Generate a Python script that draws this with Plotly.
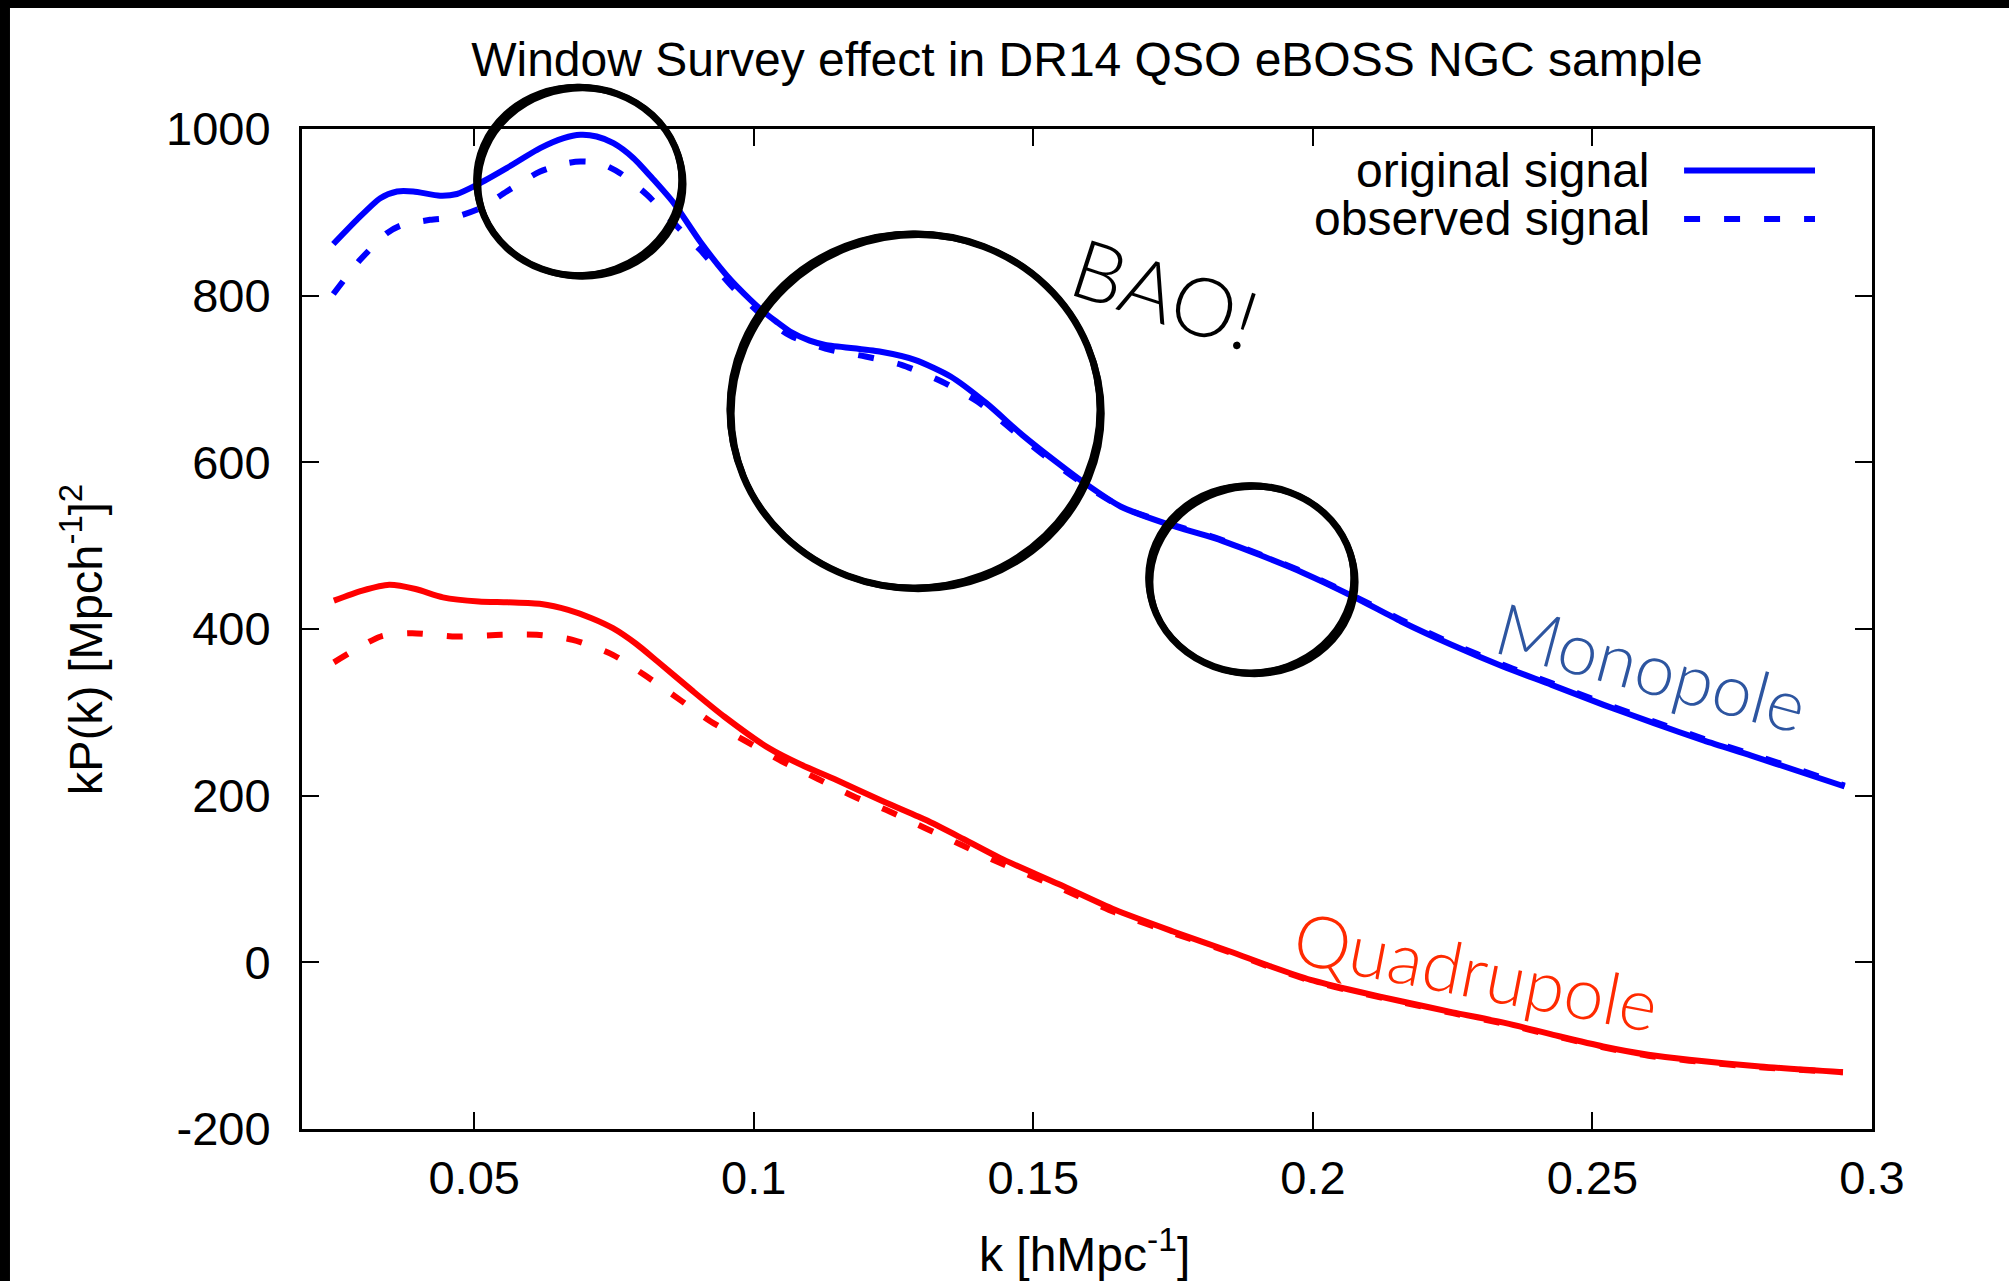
import plotly.graph_objects as go

# ---- data: kP(k) multipoles, original vs window-convolved (observed) ----
k_mono_orig = [0.0248, 0.0290, 0.0332, 0.0362, 0.0391, 0.0439, 0.0469, 0.0505, 0.0558, 0.0618,
               0.0660, 0.0690, 0.0719, 0.0749, 0.0785, 0.0821, 0.0857, 0.0904, 0.0952, 0.0994,
               0.1017, 0.1040, 0.1065, 0.1100, 0.1128, 0.1225, 0.1288, 0.1352, 0.1416, 0.1480,
               0.1544, 0.1592, 0.1656, 0.1744, 0.1824, 0.1904, 0.1984, 0.2072, 0.2158, 0.2248,
               0.2340, 0.2427, 0.2520, 0.2610, 0.2700, 0.2784, 0.2870, 0.2951]
kp_mono_orig = [862, 891, 917, 925, 925, 920, 922, 933, 953, 977,
                989, 993, 991, 983, 965, 939, 911, 865, 824, 795,
                781, 769, 757, 746, 741, 733, 723, 703, 671, 633,
                599, 575, 547, 525, 509, 489, 467, 439, 409, 381,
                355, 333, 309, 287, 266, 248, 229, 211]

k_mono_obs = [0.0248, 0.0296, 0.0344, 0.0368, 0.0421, 0.0463, 0.0511, 0.0558, 0.0618, 0.0666,
              0.0690, 0.0725, 0.0761, 0.0809, 0.0863, 0.0904, 0.0964, 0.1012, 0.1065, 0.1137,
              0.1200, 0.1264, 0.1336, 0.1400, 0.1464, 0.1520, 0.1592, 0.1656, 0.1744, 0.1824,
              0.1904, 0.1984, 0.2072, 0.2158, 0.2248, 0.2340, 0.2427, 0.2520, 0.2610, 0.2700,
              0.2784, 0.2870, 0.2951]
kp_mono_obs = [802, 843, 875, 884, 891, 894, 905, 925, 949, 959,
               961, 959, 947, 921, 883, 855, 809, 778, 752, 735,
               727, 717, 697, 673, 638, 608, 573, 547, 526, 510,
               490, 468, 440, 411, 383, 357, 335, 311, 289, 268,
               250, 231, 212]

k_quad_orig = [0.0249, 0.0300, 0.0348, 0.0395, 0.0444, 0.0508, 0.0560, 0.0620, 0.0668, 0.0710,
               0.0748, 0.0790, 0.0828, 0.0890, 0.0947, 0.1027, 0.1085, 0.1147, 0.1225, 0.1307,
               0.1375, 0.1441, 0.1545, 0.1646, 0.1750, 0.1852, 0.1925, 0.1996, 0.2080, 0.2160,
               0.2250, 0.2345, 0.2430, 0.2519, 0.2600, 0.2673, 0.2800, 0.2948]
kp_quad_orig = [434, 446, 453, 448, 438, 433, 432, 430, 423, 413,
                401, 382, 361, 326, 295, 257, 237, 219, 195, 171,
                148, 125, 94, 63, 37, 13, -5, -21, -35, -47,
                -60, -73, -87, -101, -111, -117, -125, -132]

k_quad_obs = [0.0249, 0.0333, 0.0388, 0.0468, 0.0548, 0.0612, 0.0676, 0.0748, 0.0804, 0.0868,
              0.0923, 0.0987, 0.1051, 0.1115, 0.1179, 0.1243, 0.1307, 0.1371, 0.1435, 0.1545,
              0.1646, 0.1750, 0.1852, 0.1925, 0.1996, 0.2080, 0.2160, 0.2250, 0.2345, 0.2430,
              0.2519, 0.2600, 0.2673, 0.2800, 0.2948]
kp_quad_obs = [360, 391, 395, 391, 393, 393, 387, 369, 345, 315,
               289, 265, 241, 220, 199, 181, 161, 141, 121, 90,
               60, 35, 12, -6, -22, -36, -48, -61, -74, -88,
               -102, -112, -118, -126, -132]

x_tickvals = [0.05, 0.1, 0.15, 0.2, 0.25, 0.3]
x_ticktext = ["0.05", "0.1", "0.15", "0.2", "0.25", "0.3"]
y_tickvals = [-200, 0, 200, 400, 600, 800, 1000]
y_ticktext = ["-200", "0", "200", "400", "600", "800", "1000"]

X_RANGE = [0.0192, 0.3]
Y_RANGE = [-200, 1000]

# BAO wiggles highlighted with hand-drawn rings: (k_min, k_max, kP_min, kP_max)
bao_rings = [(0.0505, 0.0872, 824, 1050),
             (0.0958, 0.1620, 449, 874),
             (0.1707, 0.2074, 347, 572)]

BLUE = "#0000FF"
RED = "#FF0000"
TEXT_FONT = "Liberation Sans, Arial, Helvetica, sans-serif"
HAND_FONT = "Lato, Noto Sans, sans-serif"
DASH = "16px,24px"
LINE_W = 6


def to_paper_x(k):
    return (k - X_RANGE[0]) / (X_RANGE[1] - X_RANGE[0])


def to_paper_y(v):
    return (v - Y_RANGE[0]) / (Y_RANGE[1] - Y_RANGE[0])


fig = go.Figure()

for k, v, color, dash in [
    (k_mono_orig, kp_mono_orig, BLUE, "solid"),
    (k_mono_obs, kp_mono_obs, BLUE, DASH),
    (k_quad_orig, kp_quad_orig, RED, "solid"),
    (k_quad_obs, kp_quad_obs, RED, DASH),
]:
    fig.add_trace(go.Scatter(
        x=k, y=v, mode="lines", showlegend=False, hoverinfo="skip",
        line=dict(color=color, width=LINE_W, dash=dash, shape="spline", smoothing=0.7),
    ))

shapes = []

# hand-drawn rings: a main stroke plus thinner offset passes for a rough pencil look
for k0, k1, v0, v1 in bao_rings:
    x0, x1 = to_paper_x(k0), to_paper_x(k1)
    y0, y1 = to_paper_y(v0), to_paper_y(v1)
    for dx, dy, w in [(0, 0, 7), (0.0018, -0.0025, 3), (-0.0015, 0.002, 3), (0.001, 0.0015, 2)]:
        shapes.append(dict(type="circle", xref="paper", yref="paper",
                           x0=x0 + dx, x1=x1 + dx, y0=y0 + dy, y1=y1 + dy,
                           line=dict(color="black", width=w), layer="above"))

# legend samples (gnuplot style: key text on the left, line sample on the right)
legend_rows = [("original signal", "solid", 0.9586), ("observed signal", DASH, 0.910)]
for _, dash, yy in legend_rows:
    shapes.append(dict(type="line", xref="paper", yref="paper",
                       x0=0.8803, x1=0.9637, y0=yy, y1=yy,
                       line=dict(color=BLUE, width=LINE_W, dash=dash)))

# dark frame strips along the top and left edges of the page
shapes.append(dict(type="rect", xref="paper", yref="paper", x0=-0.2, x1=1.1, y0=1.121, y1=1.14,
                   fillcolor="black", line=dict(width=0), layer="above"))
shapes.append(dict(type="rect", xref="paper", yref="paper", x0=-0.2, x1=-0.1860, y0=-0.16, y1=1.14,
                   fillcolor="black", line=dict(width=0), layer="above"))

annotations = []
for text, _, yy in legend_rows:
    annotations.append(dict(text=text, xref="paper", yref="paper", x=0.860, y=yy,
                            xanchor="right", yanchor="middle", showarrow=False,
                            font=dict(family=TEXT_FONT, size=48, color="black")))

# axis titles
annotations.append(dict(text="kP(k) [Mpch<sup>-1</sup>]<sup>2</sup>", xref="paper", yref="paper",
                        x=-0.1400, y=0.489, textangle=-90, showarrow=False,
                        xanchor="center", yanchor="middle",
                        font=dict(family=TEXT_FONT, size=47, color="black")))
annotations.append(dict(text="k [hMpc<sup>-1</sup>]", xref="paper", yref="paper",
                        x=0.4987, y=-0.122, showarrow=False,
                        xanchor="center", yanchor="middle",
                        font=dict(family=TEXT_FONT, size=48, color="black")))

# hand-written notes
for text, xx, yy, ang, size, color in [
    ("BAO!", 0.5503, 0.837, 18, 82, "black"),
    ("Monopole", 0.860, 0.463, 15, 72, "#2D55A0"),
    ("Quadrupole", 0.748, 0.159, 11, 72, "#FF2A00"),
]:
    annotations.append(dict(text=text, xref="paper", yref="paper", x=xx, y=yy,
                            xanchor="center", yanchor="middle",
                            textangle=ang, showarrow=False,
                            font=dict(family=HAND_FONT, size=size, color=color, weight=300)))

axis_common = dict(showline=True, linecolor="black", linewidth=3, mirror="ticks",
                   ticks="inside", ticklen=17, tickwidth=2, tickcolor="black",
                   showgrid=False, zeroline=False,
                   tickfont=dict(family=TEXT_FONT, size=47, color="black"))

fig.update_layout(
    width=2009, height=1281,
    margin=dict(l=302, r=137, t=129, b=152),
    paper_bgcolor="white", plot_bgcolor="white",
    title=dict(text="Window Survey effect in DR14 QSO eBOSS NGC sample",
               x=0.5, xref="paper", xanchor="center", y=0.9539, yref="container", yanchor="middle",
               font=dict(family=TEXT_FONT, size=48, color="black")),
    xaxis=dict(range=X_RANGE, tickvals=x_tickvals, ticktext=x_ticktext,
               ticklabelstandoff=6, **axis_common),
    yaxis=dict(range=Y_RANGE, tickvals=y_tickvals, ticktext=y_ticktext,
               ticklabelstandoff=19, **axis_common),
    shapes=shapes,
    annotations=annotations,
    showlegend=False,
)

fig.write_html("out.html")
